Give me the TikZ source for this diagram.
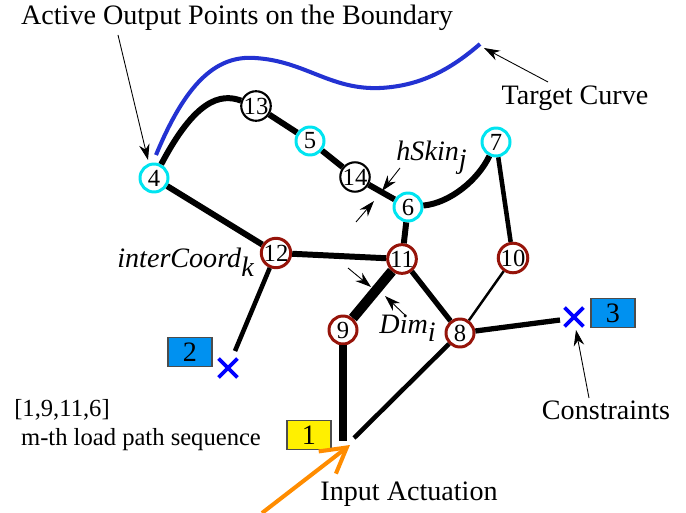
\documentclass[tikz,border=0pt]{standalone}
\usepackage{fontspec}
\setmainfont{Liberation Serif}
\usetikzlibrary{arrows.meta,shapes.misc}
\definecolor{skin}{RGB}{0,228,240}
\definecolor{inner}{RGB}{150,20,10}
\definecolor{supbox}{RGB}{0,145,240}
\definecolor{inbox}{RGB}{255,240,0}
\definecolor{target}{RGB}{35,50,210}
\definecolor{actuate}{RGB}{255,140,0}
\begin{document}
\begin{tikzpicture}[x=0.02cm,y=-0.02cm,
  font=\fontsize{16}{19}\selectfont,
  pt/.style={circle,draw,line width=1.2pt,fill=white,inner sep=0pt,
    minimum size=0.56cm,font=\fontsize{14}{14}\selectfont},
  outpt/.style={pt,draw=skin,line width=1.7pt},
  midpt/.style={pt,draw=inner,line width=1.7pt},
  tag/.style={draw=black!70,line width=0.6pt,minimum width=0.88cm,
    minimum height=0.58cm,inner sep=0pt},
  fix/.style={cross out,draw=blue,line width=2.2pt,minimum size=0.3cm,inner sep=0pt},
  note/.style={-{Stealth[length=9pt,width=6pt]},line width=0.5pt}]
\useasboundingbox (0,0) rectangle (686,513);
% points of the mechanism
\node[outpt] (n4)  at (154,178) {4};
\node[pt]    (n13) at (256,106) {13};
\node[outpt] (n5)  at (310,141) {5};
\node[pt]    (n14) at (355,177) {14};
\node[outpt] (n6)  at (408,207) {6};
\node[outpt] (n7)  at (496,142) {7};
\node[midpt] (n12) at (276,253) {12};
\node[midpt] (n11) at (402,259) {11};
\node[midpt] (n10) at (513,258) {10};
\node[midpt] (n9)  at (343,330) {9};
\node[midpt] (n8)  at (460,333) {8};
% supports and input
\node[fix] (x2) at (228,368) {};
\node[fix] (x3) at (574,317) {};
\node[tag,fill=supbox] (b2) at (190,352) {2};
\node[tag,fill=supbox] (b3) at (613,313) {3};
\node[tag,fill=inbox]  (b1) at (309,435) {1};
\coordinate (e2) at (235,351);
\coordinate (e3) at (560,320);
\coordinate (e9) at (343,441);
\coordinate (e8) at (354,438);
\coordinate (a1) at (262,513);
\coordinate (a0) at (350,445);
% members
\draw[line width=3.4pt] (n4) .. controls (195,100) and (220,93) .. (n13);
\draw[line width=3.4pt] (n13) -- (n5) -- (n14) -- (n6);
\draw[line width=3.4pt] (n6) .. controls (450,203) and (478,180) .. (n7);
\draw[line width=2.6pt] (n7) -- (n10);
\draw[line width=1.4pt] (n10) -- (n8);
\draw[line width=3.4pt] (n4) -- (n12) -- (n11) -- (n6);
\draw[line width=5.7pt] (n11) -- (n9);
\draw[line width=3pt] (n11) -- (n8);
\draw[line width=2.6pt] (n12) -- (e2);
\draw[line width=4.5pt] (n9) -- (e9);
\draw[line width=2.6pt] (n8) -- (e8);
\draw[line width=3pt] (n8) -- (e3);
\draw[actuate,line width=2.3pt,-{Straight Barb[length=14pt,width=16pt]}] (a1) -- (a0);
% target curve
\draw[target,line width=2.3pt] (156,155) .. controls (185,85) and (215,55) .. (255,58)
  .. controls (305,61) and (330,90) .. (380,88) .. controls (420,86) and (450,70) .. (480,44);
% labels
\node (top) at (237,18) {Active Output Points on the Boundary};
\node (tc)  at (575,98) {Target Curve};
\node (hs)  at (432,158) {\textit{hSkin}$_{\textit{j}}$};
\node (ic)  at (186,262) {\textit{interCoord}$_{\textit{k}}$};
\node (dm)  at (408,328) {\textit{Dim}$_{\textit{i}}$};
\node (cs)  at (606,410) {Constraints};
\node[font=\fontsize{14}{16}\selectfont] (seq) at (62,410) {[1,9,11,6]};
\node[font=\fontsize{14}{16}\selectfont] (mth) at (141,440) {m-th load path sequence};
\node (ia)  at (409,494) {Input Actuation};
\coordinate (t1) at (118,35);  \coordinate (t2) at (148,160);
\coordinate (c1) at (548,82);  \coordinate (c2) at (484,48);
\coordinate (h1) at (400,168); \coordinate (h2) at (382,191);
\coordinate (h3) at (356,222); \coordinate (h4) at (374,201);
\coordinate (d1) at (348,268); \coordinate (d2) at (371,287);
\coordinate (d3) at (406,316); \coordinate (d4) at (385,296);
\coordinate (k1) at (589,398); \coordinate (k2) at (576,330);
\draw[note] (t1) -- (t2);
\draw[note] (c1) -- (c2);
\draw[note] (h1) -- (h2);
\draw[note] (h3) -- (h4);
\draw[note] (d1) -- (d2);
\draw[note] (d3) -- (d4);
\draw[note] (k1) -- (k2);
\end{tikzpicture}
\end{document}
